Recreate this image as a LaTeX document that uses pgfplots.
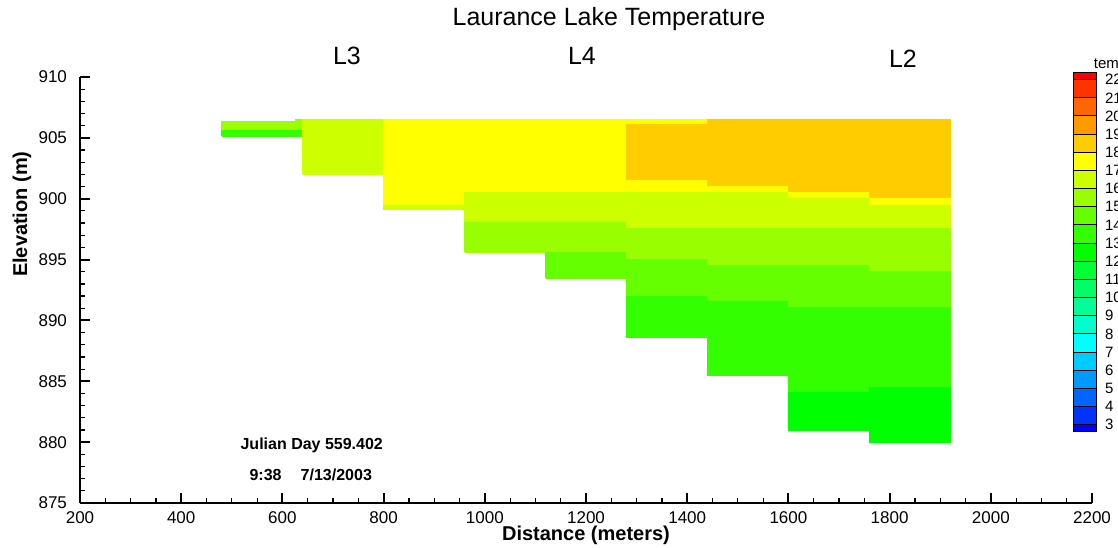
\documentclass[border=0pt]{standalone}
\usepackage{pgfplots}
\pgfplotsset{compat=1.18}
\usepackage{fontspec}
\setmainfont{Liberation Sans}

% temperature band colours (lower bound of band)
\definecolor{b23}{HTML}{FF0000}
\definecolor{b21}{HTML}{FF3300}
\definecolor{b20}{HTML}{FF6600}
\definecolor{b19}{HTML}{FF9900}
\definecolor{b18}{HTML}{FFCC00}
\definecolor{b17}{HTML}{FFFF00}
\definecolor{b16}{HTML}{CCFF00}
\definecolor{b15}{HTML}{99FF00}
\definecolor{b14}{HTML}{66FF00}
\definecolor{b13}{HTML}{33FF00}
\definecolor{b12}{HTML}{00FF00}
\definecolor{b11}{HTML}{00FF33}
\definecolor{b10}{HTML}{00FF66}
\definecolor{b9}{HTML}{00FF99}
\definecolor{b8}{HTML}{00FFCC}
\definecolor{b7}{HTML}{00FFFF}
\definecolor{b6}{HTML}{00CCFF}
\definecolor{b5}{HTML}{0099FF}
\definecolor{b4}{HTML}{0066FF}
\definecolor{b3}{HTML}{0033FF}
\definecolor{b2}{HTML}{0000FF}

% one grid cell: x0, x1, z bottom, z top, colour
\newcommand{\cell}[5]{\addplot[fill=#5, draw=#5, line width=0.3pt, forget plot]
  coordinates {(#1,#3) (#2,#3) (#2,#4) (#1,#4) (#1,#3)};}
% one colorbar box: from, to, colour
\newcommand{\cbox}[3]{\addplot[fill=#3, draw=black, line width=0.5pt, forget plot]
  coordinates {(0,#1) (1,#1) (1,#2) (0,#2) (0,#1)};}

\begin{document}
\begin{tikzpicture}
\path[use as bounding box] (-40pt,-22pt) rectangle (519pt,251.5pt);
\begin{axis}[
  at={(0,0)}, anchor=south west,
  scale only axis, width=506pt, height=213pt,
  xmin=200, xmax=2200, ymin=875, ymax=910,
  axis lines*=left,
  axis line style={-, line width=1pt},
  tick align=inside,
  xtick={200,400,...,2200}, ytick={875,880,...,910},
  minor x tick num=3, minor y tick num=4,
  major tick length=5pt, minor tick length=2.5pt,
  major tick style={line width=1pt, black},
  minor tick style={line width=0.6pt, black},
  /pgf/number format/assume math mode=true,
  /pgf/number format/1000 sep={},
  ticklabel style={font=\fontsize{8.5}{10}\selectfont},
  yticklabel style={xshift=-3pt},
  xticklabel style={yshift=-1pt},
  xlabel={\textbf{Distance (meters)}},
  xlabel style={at={(axis description cs:0.5,-0.075)}, anchor=center,
    font=\fontsize{10}{12}\selectfont},
  ylabel={\textbf{Elevation (m)}},
  ylabel style={at={(axis description cs:-0.0573,0.678)}, anchor=center,
    font=\fontsize{10}{12}\selectfont},
  title={Laurance Lake Temperature},
  title style={at={(axis description cs:0.5227,1.108)}, anchor=center,
    font=\fontsize{12.5}{14}\selectfont},
  clip=false,
]
% column 480-640
\cell{480}{640}{905.6}{906.35}{b15}
\cell{625}{640}{906.35}{906.5}{b15}
\cell{480}{640}{905.15}{905.6}{b13}
% column 640-800
\cell{640}{800}{902.0}{906.5}{b16}
% column 800-960
\cell{800}{960}{899.5}{906.5}{b17}
\cell{800}{960}{899.1}{899.5}{b16}
% column 960-1120
\cell{960}{1120}{900.5}{906.5}{b17}
\cell{960}{1120}{898.1}{900.5}{b16}
\cell{960}{1120}{895.6}{898.1}{b15}
% column 1120-1280
\cell{1120}{1280}{900.5}{906.5}{b17}
\cell{1120}{1280}{898.1}{900.5}{b16}
\cell{1120}{1280}{895.6}{898.1}{b15}
\cell{1120}{1280}{893.5}{895.6}{b14}
% column 1280-1440
\cell{1280}{1440}{906.1}{906.5}{b17}
\cell{1280}{1440}{901.5}{906.1}{b18}
\cell{1280}{1440}{900.5}{901.5}{b17}
\cell{1280}{1440}{897.6}{900.5}{b16}
\cell{1280}{1440}{895.0}{897.6}{b15}
\cell{1280}{1440}{892.0}{895.0}{b14}
\cell{1280}{1440}{888.6}{892.0}{b13}
% column 1440-1600
\cell{1440}{1600}{901.0}{906.5}{b18}
\cell{1440}{1600}{900.5}{901.0}{b17}
\cell{1440}{1600}{897.6}{900.5}{b16}
\cell{1440}{1600}{894.5}{897.6}{b15}
\cell{1440}{1600}{891.6}{894.5}{b14}
\cell{1440}{1600}{885.5}{891.6}{b13}
% column 1600-1760
\cell{1600}{1760}{900.5}{906.5}{b18}
\cell{1600}{1760}{900.0}{900.5}{b17}
\cell{1600}{1760}{897.6}{900.0}{b16}
\cell{1600}{1760}{894.5}{897.6}{b15}
\cell{1600}{1760}{891.1}{894.5}{b14}
\cell{1600}{1760}{884.1}{891.1}{b13}
\cell{1600}{1760}{881.0}{884.1}{b12}
% column 1760-1920
\cell{1760}{1920}{900.0}{906.5}{b18}
\cell{1760}{1920}{899.5}{900.0}{b17}
\cell{1760}{1920}{897.6}{899.5}{b16}
\cell{1760}{1920}{894.0}{897.6}{b15}
\cell{1760}{1920}{891.1}{894.0}{b14}
\cell{1760}{1920}{884.5}{891.1}{b13}
\cell{1760}{1920}{880.0}{884.5}{b12}

\node[font=\fontsize{12.5}{14}\selectfont] at (axis description cs:0.2638,1.0493) {L3};
\node[font=\fontsize{12.5}{14}\selectfont] at (axis description cs:0.496,1.0493) {L4};
\node[font=\fontsize{12.5}{14}\selectfont] at (axis description cs:0.8132,1.0423) {L2};
\node[font=\bfseries\fontsize{8}{10}\selectfont] at (axis description cs:0.229,0.136) {Julian Day 559.402};
\node[font=\bfseries\fontsize{8}{10}\selectfont] at (axis description cs:0.228,0.0657) {9:38\hspace{1.2em}7/13/2003};
\end{axis}

\begin{axis}[
  at={(496.5pt,35.65pt)}, anchor=south west,
  scale only axis, width=11.5pt, height=179.5pt,
  xmin=0, xmax=1, ymin=2.62, ymax=22.38,
  axis line style={draw=none},
  xtick=\empty, ytick={3,...,22},
  yticklabel pos=right,
  major tick length=0pt, tick style={draw=none},
  /pgf/number format/assume math mode=true,
  ticklabel style={font=\fontsize{7.5}{9}\selectfont},
  yticklabel style={xshift=1pt},
  clip=false,
]
\cbox{22}{22.38}{b23}
\cbox{21}{22}{b21}
\cbox{20}{21}{b20}
\cbox{19}{20}{b19}
\cbox{18}{19}{b18}
\cbox{17}{18}{b17}
\cbox{16}{17}{b16}
\cbox{15}{16}{b15}
\cbox{14}{15}{b14}
\cbox{13}{14}{b13}
\cbox{12}{13}{b12}
\cbox{11}{12}{b11}
\cbox{10}{11}{b10}
\cbox{9}{10}{b9}
\cbox{8}{9}{b8}
\cbox{7}{8}{b7}
\cbox{6}{7}{b6}
\cbox{5}{6}{b5}
\cbox{4}{5}{b4}
\cbox{3}{4}{b3}
\cbox{2.62}{3}{b2}
\node[anchor=west, font=\fontsize{7.5}{9}\selectfont] at (axis description cs:0.6,1.022) {temp};
\end{axis}
\end{tikzpicture}
\end{document}
